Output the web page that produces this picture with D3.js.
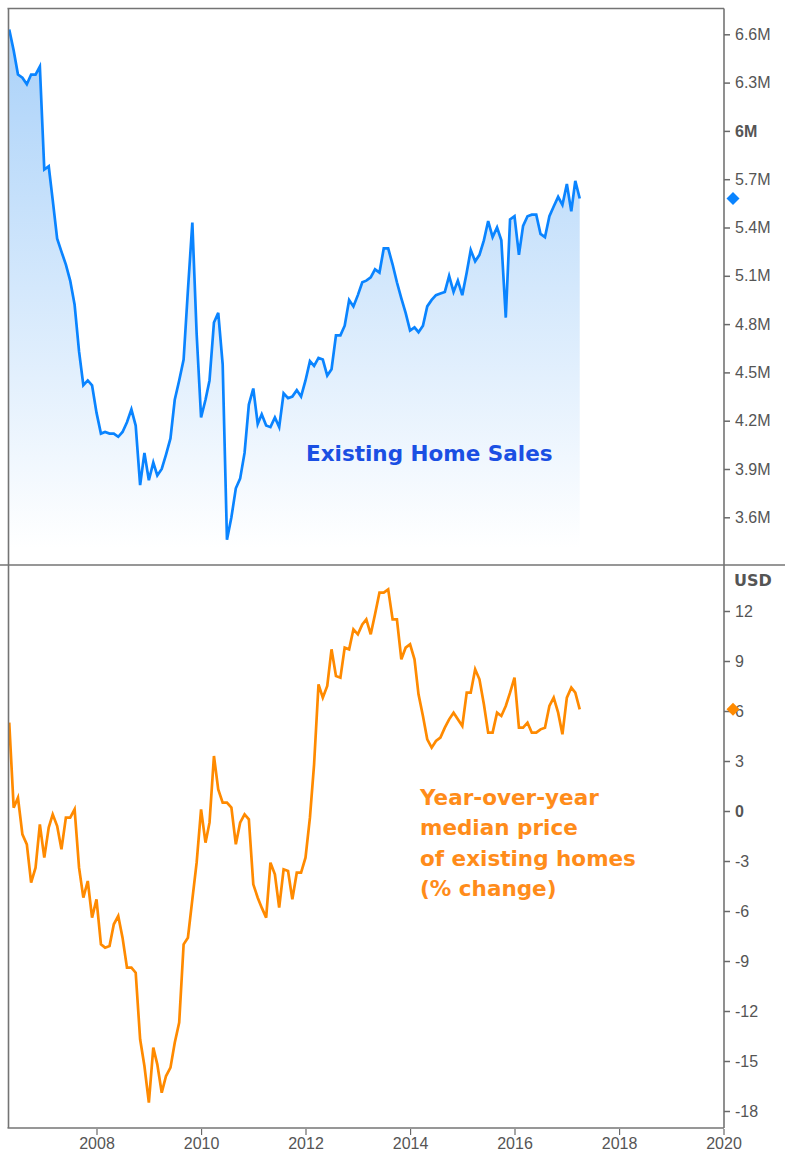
<!DOCTYPE html>
<html>
<head>
<meta charset="utf-8">
<script src="https://cdn.jsdelivr.net/npm/d3@7"></script>
<style>
  body { margin: 0; background: #fff; }
  svg { display: block; font-family: 'DejaVu Sans', Tahoma, sans-serif; }
  .axis text { font-size: 16px; fill: #555; }
  .axis line { stroke: #6a6a6a; }
  .legend { font-weight: bold; font-size: 21.5px; }
</style>
</head>
<body>
<div id="chart"></div>
<script>
// monthly readings, May 2006 .. Apr 2017
const firstMonth = new Date(2006, 4, 1);

// existing home sales, millions (SAAR)
const homeSales = [
  6.63, 6.50, 6.35, 6.33, 6.29, 6.35, 6.35, 6.40, 5.76, 5.78,
  5.57, 5.33, 5.25, 5.17, 5.07, 4.92, 4.63, 4.42, 4.45, 4.42,
  4.25, 4.12, 4.13, 4.12, 4.12, 4.10, 4.13, 4.19, 4.27, 4.17,
  3.80, 4.00, 3.83, 3.94, 3.86, 3.90, 3.99, 4.09, 4.33, 4.45,
  4.58, 5.01, 5.43, 4.74, 4.22, 4.33, 4.45, 4.81, 4.87, 4.55,
  3.46, 3.60, 3.78, 3.84, 4.00, 4.30, 4.40, 4.18, 4.24, 4.17,
  4.16, 4.22, 4.16, 4.37, 4.34, 4.35, 4.39, 4.35, 4.45, 4.57,
  4.54, 4.59, 4.58, 4.48, 4.52, 4.73, 4.73, 4.79, 4.95, 4.91,
  4.98, 5.06, 5.07, 5.09, 5.14, 5.12, 5.27, 5.27, 5.17, 5.06,
  4.96, 4.87, 4.76, 4.78, 4.75, 4.79, 4.91, 4.95, 4.98, 4.99,
  5.00, 5.10, 5.00, 5.07, 4.98, 5.12, 5.26, 5.19, 5.23, 5.32,
  5.44, 5.34, 5.40, 5.32, 4.84, 5.45, 5.47, 5.23, 5.41, 5.47,
  5.48, 5.48, 5.36, 5.34, 5.47, 5.53, 5.59, 5.54, 5.67, 5.50,
  5.69, 5.58,
];

// median price of existing homes, year-over-year % change
const priceChange = [
  5.3, 0.2, 0.8, -1.4, -2.0, -4.3, -3.4, -0.8, -2.8, -1.0,
  -0.2, -0.9, -2.3, -0.4, -0.4, 0.1, -3.4, -5.2, -4.2, -6.4,
  -5.3, -8.0, -8.2, -8.1, -6.8, -6.3, -7.6, -9.4, -9.4, -9.7,
  -13.7, -15.3, -17.5, -14.2, -15.2, -16.9, -15.9, -15.4, -13.9, -12.7,
  -8.0, -7.6, -5.3, -3.1, 0.1, -1.9, -0.7, 3.3, 1.3, 0.5,
  0.5, 0.2, -2.0, -0.7, -0.2, -0.5, -4.4, -5.2, -5.8, -6.4,
  -3.1, -3.8, -5.8, -3.5, -3.6, -5.3, -3.7, -3.7, -2.8, -0.4,
  2.8, 7.6, 6.8, 7.5, 9.7, 8.1, 8.0, 9.8, 9.7, 10.9,
  10.6, 11.2, 11.5, 10.6, 11.8, 13.1, 13.1, 13.3, 11.5, 11.5,
  9.1, 9.8, 10.0, 9.1, 7.0, 5.7, 4.3, 3.8, 4.2, 4.4,
  5.0, 5.5, 5.9, 5.5, 5.1, 7.1, 7.1, 8.5, 7.9, 6.4,
  4.7, 4.7, 5.9, 5.7, 6.3, 7.1, 8.0, 5.0, 5.0, 5.3,
  4.7, 4.7, 4.9, 5.0, 6.3, 6.8, 5.9, 4.6, 6.8, 7.4,
  7.1, 6.1,
];

const salesTicks = [3.6, 3.9, 4.2, 4.5, 4.8, 5.1, 5.4, 5.7, 6, 6.3, 6.6];
const priceTicks = [-18, -15, -12, -9, -6, -3, 0, 3, 6, 9, 12];
const yearTicks = [2008, 2010, 2012, 2014, 2016, 2018, 2020];

const salesLabel = ['Existing Home Sales'];
const priceLabel = ['Year-over-year', 'median price', 'of existing homes', '(% change)'];

class HousingPanels {
  constructor(_config) {
    this.config = {
      parentElement: _config.parentElement,
      containerWidth: 785,
      containerHeight: 1161,
      left: 8.5,
      right: 724,
      top: 8.5,
      split: 565,
      bottom: 1128,
    };
    this.initVis();
  }

  initVis() {
    const vis = this;
    const c = vis.config;

    vis.svg = d3.select(c.parentElement)
      .append('svg')
      .attr('width', c.containerWidth)
      .attr('height', c.containerHeight);

    const defs = vis.svg.append('defs');
    const grad = defs.append('linearGradient')
      .attr('id', 'sales-fill')
      .attr('gradientUnits', 'userSpaceOnUse')
      .attr('x1', 0).attr('y1', 28)
      .attr('x2', 0).attr('y2', 548);
    grad.append('stop').attr('offset', 0).attr('stop-color', '#a9d1f9');
    grad.append('stop').attr('offset', 1).attr('stop-color', '#ffffff');

    defs.append('clipPath').attr('id', 'clip-top')
      .append('rect')
      .attr('x', c.left).attr('y', c.top)
      .attr('width', c.right - c.left).attr('height', c.split - c.top);
    defs.append('clipPath').attr('id', 'clip-bottom')
      .append('rect')
      .attr('x', c.left).attr('y', c.split)
      .attr('width', c.right - c.left).attr('height', c.bottom - c.split);

    vis.dates = homeSales.map((d, i) => d3.timeMonth.offset(firstMonth, i));

    vis.xScale = d3.scaleTime()
      .domain([new Date(2008, 0, 1), new Date(2020, 0, 1)])
      .range([96.5, 723.5]);

    vis.ySales = d3.scaleLinear()
      .domain([3.6, 6.6])
      .range([517.3, 34.3]);

    vis.yPrice = d3.scaleLinear()
      .domain([-18, 12])
      .range([1111, 611]);

    vis.renderVis();
  }

  renderVis() {
    const vis = this;
    const c = vis.config;

    // blue area + line
    const area = d3.area()
      .x((d, i) => vis.xScale(vis.dates[i]))
      .y0(c.split)
      .y1((d) => vis.ySales(d));

    const salesLine = d3.line()
      .x((d, i) => vis.xScale(vis.dates[i]))
      .y((d) => vis.ySales(d));

    const top = vis.svg.append('g').attr('clip-path', 'url(#clip-top)');
    top.append('path')
      .datum(homeSales)
      .attr('d', area)
      .attr('fill', 'url(#sales-fill)');
    top.append('path')
      .datum(homeSales)
      .attr('d', salesLine)
      .attr('fill', 'none')
      .attr('stroke', '#0a84ff')
      .attr('stroke-width', 2.7);

    // orange line
    const priceLine = d3.line()
      .x((d, i) => vis.xScale(vis.dates[i]))
      .y((d) => vis.yPrice(d));

    vis.svg.append('g').attr('clip-path', 'url(#clip-bottom)')
      .append('path')
      .datum(priceChange)
      .attr('d', priceLine)
      .attr('fill', 'none')
      .attr('stroke', '#ff8a00')
      .attr('stroke-width', 2.7);

    // frame
    const frame = vis.svg.append('g')
      .attr('stroke', '#747474')
      .attr('stroke-width', 1.6)
      .attr('fill', 'none');
    frame.append('line').attr('x1', c.left - 1).attr('x2', c.right).attr('y1', c.top).attr('y2', c.top);
    frame.append('line').attr('x1', c.left).attr('x2', c.left).attr('y1', c.top).attr('y2', c.bottom);
    frame.append('line').attr('x1', c.right).attr('x2', c.right).attr('y1', c.top).attr('y2', c.bottom);
    frame.append('line').attr('x1', 0).attr('x2', c.containerWidth).attr('y1', c.split).attr('y2', c.split);
    frame.append('line').attr('x1', c.left - 1).attr('x2', c.right).attr('y1', c.bottom).attr('y2', c.bottom);

    // right axes
    const salesAxis = d3.axisRight(vis.ySales)
      .tickValues(salesTicks)
      .tickSize(6)
      .tickPadding(5)
      .tickFormat((d) => `${d}M`);
    const salesG = vis.svg.append('g')
      .attr('class', 'axis')
      .attr('transform', `translate(${c.right},0)`)
      .call(salesAxis);

    const priceAxis = d3.axisRight(vis.yPrice)
      .tickValues(priceTicks)
      .tickSize(6)
      .tickPadding(5)
      .tickFormat((d) => `${d}`);
    const priceG = vis.svg.append('g')
      .attr('class', 'axis')
      .attr('transform', `translate(${c.right},0)`)
      .call(priceAxis);

    [salesG, priceG].forEach((g) => {
      g.select('.domain').remove();
      g.selectAll('.tick line').attr('stroke-width', 1.5);
      g.selectAll('.tick text')
        .attr('font-family', null)
        .attr('font-size', null)
        .attr('fill', '#555')
        .style('font-weight', (d) => (d === 6 && g === salesG) || (d === 0 && g === priceG) ? 'bold' : 'normal');
    });

    vis.svg.append('text')
      .attr('x', 734)
      .attr('y', 580)
      .attr('dy', '0.35em')
      .attr('fill', '#555')
      .style('font-size', '16px')
      .style('font-weight', 'bold')
      .text('USD');

    // bottom time axis
    const xAxis = d3.axisBottom(vis.xScale)
      .tickValues(yearTicks.map((y) => new Date(y, 0, 1)))
      .tickSize(6)
      .tickPadding(3)
      .tickFormat(d3.timeFormat('%Y'));
    const xG = vis.svg.append('g')
      .attr('class', 'axis')
      .attr('transform', `translate(0,${c.bottom + 1})`)
      .call(xAxis);
    xG.select('.domain').remove();
    xG.selectAll('.tick line').attr('stroke', '#8a8a8a').attr('stroke-width', 1.2);
    xG.selectAll('.tick text')
      .attr('font-family', null)
      .attr('font-size', null)
      .attr('fill', '#555');

    // last value markers
    const diamond = 'M0,-6.5L6.5,0L0,6.5L-6.5,0Z';
    vis.svg.append('path')
      .attr('d', diamond)
      .attr('fill', '#0a84ff')
      .attr('transform', `translate(733,${vis.ySales(homeSales[homeSales.length - 1])})`);
    vis.svg.append('path')
      .attr('d', diamond)
      .attr('fill', '#ff8a00')
      .attr('transform', `translate(733,${vis.yPrice(priceChange[priceChange.length - 1])})`);

    // captions
    vis.svg.selectAll('.sales-label')
      .data(salesLabel)
      .join('text')
      .attr('class', 'legend sales-label')
      .attr('x', 306)
      .attr('y', 461)
      .attr('fill', '#1a4fe3')
      .text((d) => d);

    vis.svg.selectAll('.price-label')
      .data(priceLabel)
      .join('text')
      .attr('class', 'legend price-label')
      .attr('x', 420)
      .attr('y', (d, i) => 805 + i * 30.3)
      .attr('fill', '#ff8c1a')
      .text((d) => d);
  }
}

new HousingPanels({ parentElement: '#chart' });
</script>
</body>
</html>
